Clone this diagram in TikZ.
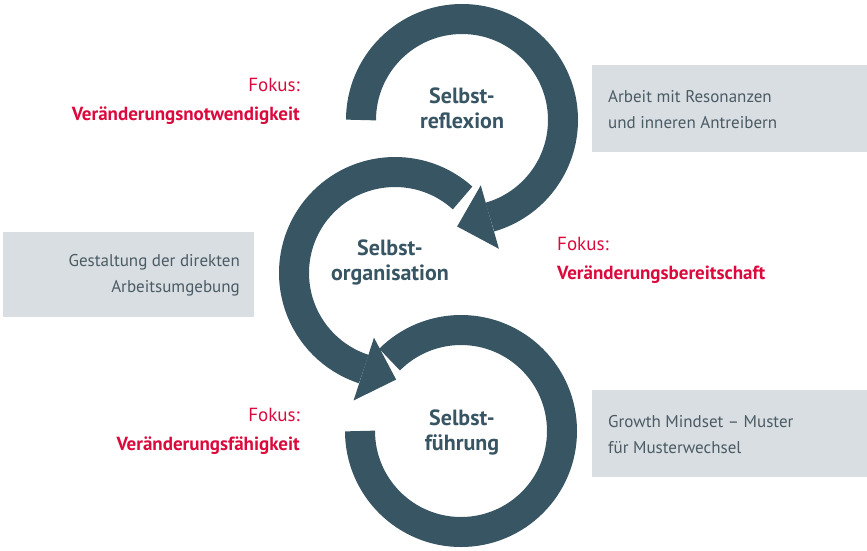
\documentclass[tikz,border=0pt]{standalone}
\usepackage{fontspec}
\setmainfont{PT Sans}
\usetikzlibrary{calc}
\definecolor{ringc}{HTML}{375563}
\definecolor{redc}{HTML}{DC0A3C}
\definecolor{boxc}{HTML}{D9DEE2}
\definecolor{boxt}{HTML}{4A5B64}
\begin{document}
\begin{tikzpicture}[x=1pt,y=1pt,
  ring/.style={draw=ringc,line width=30pt,line cap=butt},
  head/.style={fill=ringc},
  ctext/.style={text=ringc,font=\fontsize{22}{25}\selectfont\bfseries,align=center},
  foc/.style={text=redc,font=\fontsize{19}{29}\selectfont,inner sep=0pt},
  gbox/.style={fill=boxc,text=boxt,font=\fontsize{17}{26}\selectfont,inner sep=0pt}]
\useasboundingbox (0,0) rectangle (867,-550);
\coordinate (c1) at (462,-120);
\coordinate (c2) at (395,-273);
\coordinate (c3) at (461,-431);
% rings
\draw[ring] ([shift={(180:101)}]c1) arc[start angle=180,end angle=-74,radius=101];
\fill[head] ($(c1)+(-74:68)$) -- ($(c1)+(-74:134)$) -- ($(c1)+(-74:101)+(-164:34)$) -- cycle;
\draw[ring] ([shift={(48:101)}]c2) arc[start angle=48,end angle=252,radius=101];
\fill[head] ($(c2)+(252:68)$) -- ($(c2)+(252:134)$) -- ($(c2)+(252:101)+(342:34)$) -- cycle;
\draw[ring] ([shift={(180:101)}]c3) arc[start angle=180,end angle=495,radius=101];
% centre texts
\node[ctext] (t1) at (462,-108) {Selbst-\\reflexion};
\node[ctext] (t2) at (390,-262) {Selbst-\\organisation};
\node[ctext] (t3) at (462,-432) {Selbst-\\führung};
% boxes
\node[gbox,minimum width=275pt,minimum height=87pt] (b1) at (729.5,-108.5) {};
\node[gbox,anchor=west,align=left] (b1t) at (608,-110) {Arbeit mit Resonanzen\\und inneren Antreibern};
\node[gbox,minimum width=251pt,minimum height=85pt] (b2) at (128.5,-274.5) {};
\node[gbox,anchor=east,align=right] (b2t) at (240,-275) {Gestaltung der direkten\\Arbeitsumgebung};
\node[gbox,minimum width=275pt,minimum height=87pt] (b3) at (729.5,-433.5) {};
\node[gbox,anchor=west,align=left] (b3t) at (608,-435) {Growth Mindset – Muster\\für Musterwechsel};
% focus labels
\node[foc,anchor=east,align=right] (f1) at (300,-101) {Fokus:\\\bfseries Veränderungsnotwendigkeit};
\node[foc,anchor=west,align=left] (f2) at (557,-260) {Fokus:\\\bfseries Veränderungsbereitschaft};
\node[foc,anchor=east,align=right] (f3) at (300,-431) {Fokus:\\\bfseries Veränderungsfähigkeit};
\end{tikzpicture}
\end{document}
